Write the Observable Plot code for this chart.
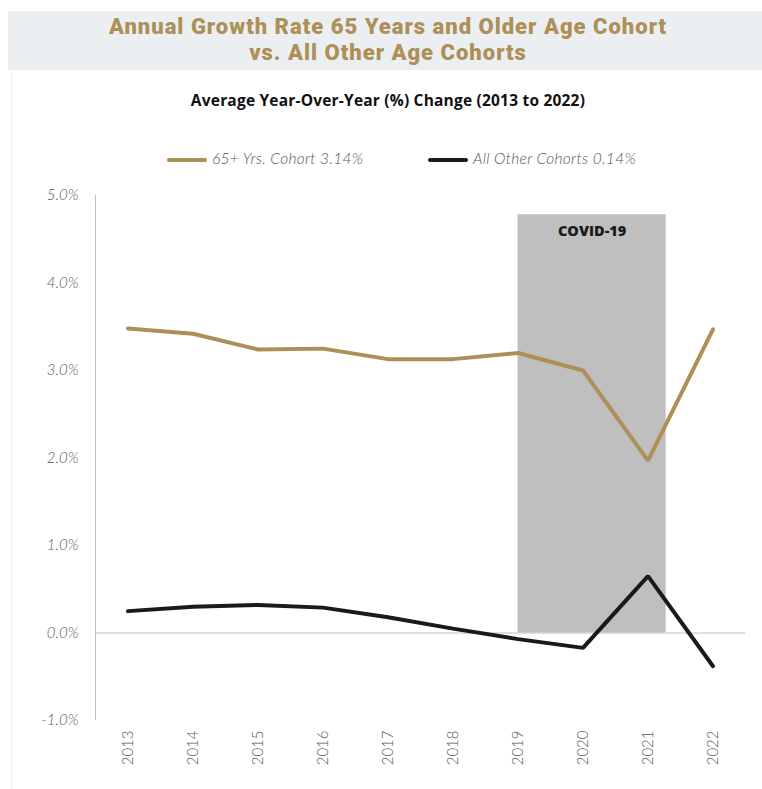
<!DOCTYPE html>
<html>
<head>
<meta charset="utf-8">
<script src="https://cdn.jsdelivr.net/npm/d3@7"></script>
<script src="https://cdn.jsdelivr.net/npm/@observablehq/plot@0.6"></script>
<style>
  body { margin: 0; background: #fff; width: 762px; height: 789px; position: relative; overflow: hidden; font-family: Lato, "Noto Sans", sans-serif; }
  #frame { position: absolute; left: 11px; top: 11px; width: 760px; height: 800px; border-left: 1px solid #f1f1f1; }
  #header { position: absolute; left: 8px; top: 11px; width: 760px; height: 59px; background: #eceff1; }
  .title { position: absolute; left: 0; width: 776px; text-align: center; color: #ad9058; font-family: Roboto, sans-serif; font-weight: 900; font-size: 22px; line-height: 22px; letter-spacing: 1px; white-space: nowrap; }
  #t1 { top: 16px; }
  #t2 { top: 42px; }
  #subtitle { position: absolute; left: 0; top: 89px; width: 776px; text-align: center; color: #111; font-family: "Open Sans", sans-serif; font-weight: 700; font-size: 15.5px; letter-spacing: 0.2px; }
  #legend { position: absolute; top: 149px; left: 0; width: 762px; height: 20px; font-style: italic; font-size: 15.5px; color: #555; font-weight: 300; letter-spacing: 0.3px; }
  .sw { position: absolute; top: 9px; width: 40px; height: 4px; border-radius: 2px; }
  .lt { position: absolute; top: 0px; white-space: nowrap; }
  #chart { position: absolute; left: 0; top: 180px; }
</style>
</head>
<body>
<div id="frame"></div>
<div id="header"></div>
<div class="title" id="t1">Annual Growth Rate 65 Years and Older Age Cohort</div>
<div class="title" id="t2">vs. All Other Age Cohorts</div>
<div id="subtitle">Average Year-Over-Year (%) Change (2013 to 2022)</div>
<div id="legend"></div>
<div id="chart"></div>
<script>
const years = [2013, 2014, 2015, 2016, 2017, 2018, 2019, 2020, 2021, 2022];
const senior = [3.48, 3.42, 3.24, 3.25, 3.13, 3.13, 3.20, 3.00, 1.97, 3.47];
const others = [0.25, 0.30, 0.32, 0.29, 0.18, 0.05, -0.07, -0.17, 0.65, -0.38];
const seriesNames = ["65+ Yrs. Cohort 3.14%", "All Other Cohorts 0.14%"];
const seriesColors = ["#ad9058", "#1a1a1a"];
const yTicks = [-1, 0, 1, 2, 3, 4, 5];
const covidLabel = "COVID-19";
const covidSpan = {x1: 2019, x2: 2021.28, y1: 0, y2: 4.78};

const data = [
  ...years.map((y, i) => ({year: y, value: senior[i], series: seriesNames[0]})),
  ...years.map((y, i) => ({year: y, value: others[i], series: seriesNames[1]}))
];

// legend
const legend = document.getElementById("legend");
const legendPos = [{sw: 167, tx: 212}, {sw: 428, tx: 473}];
seriesNames.forEach((n, i) => {
  const s = document.createElement("div");
  s.className = "sw"; s.style.left = legendPos[i].sw + "px"; s.style.background = seriesColors[i];
  const t = document.createElement("div");
  t.className = "lt"; t.style.left = legendPos[i].tx + "px"; t.textContent = n;
  legend.append(s, t);
});

const chart = Plot.plot({
  width: 762,
  height: 609,
  marginLeft: 95,
  marginRight: 17,
  marginTop: 15,
  marginBottom: 69,
  style: {fontFamily: "Lato, 'Noto Sans', sans-serif", background: "transparent"},
  x: {domain: [2012.5, 2022.5], axis: null},
  y: {domain: [-1, 5], axis: null},
  color: {domain: seriesNames, range: seriesColors},
  marks: [
    Plot.rect([covidSpan], {x1: "x1", x2: "x2", y1: "y1", y2: "y2", fill: "#bfbfbf"}),
    Plot.text([covidSpan], {x: d => (d.x1 + d.x2) / 2, y: d => d.y2, text: () => covidLabel, dy: 17, fill: "#1a1a1a", fontWeight: 800, fontSize: 14.5, fontFamily: "'Open Sans', sans-serif"}),
    Plot.ruleX([2012.5], {y1: -1, y2: 5, stroke: "#bdbdbd", strokeWidth: 1}),
    Plot.ruleY([0], {x1: 2012.5, x2: 2022.5, stroke: "#bdbdbd", strokeWidth: 1}),
    Plot.axisY(yTicks, {tickSize: 0, tickPadding: 17, tickFormat: d => d.toFixed(1) + "%", fontSize: 15, fontStyle: "italic", fill: "#5a5a5a", fontWeight: 300}),
    Plot.axisX(years, {tickSize: 0, tickPadding: 10, tickRotate: -90, tickFormat: d => String(d), fontSize: 15, fill: "#5a5a5a", fontWeight: 300}),
    Plot.line(data, {x: "year", y: "value", stroke: "series", z: "series", strokeWidth: 4, strokeLinecap: "round", strokeLinejoin: "miter"})
  ]
});
document.getElementById("chart").append(chart);
</script>
</body>
</html>
